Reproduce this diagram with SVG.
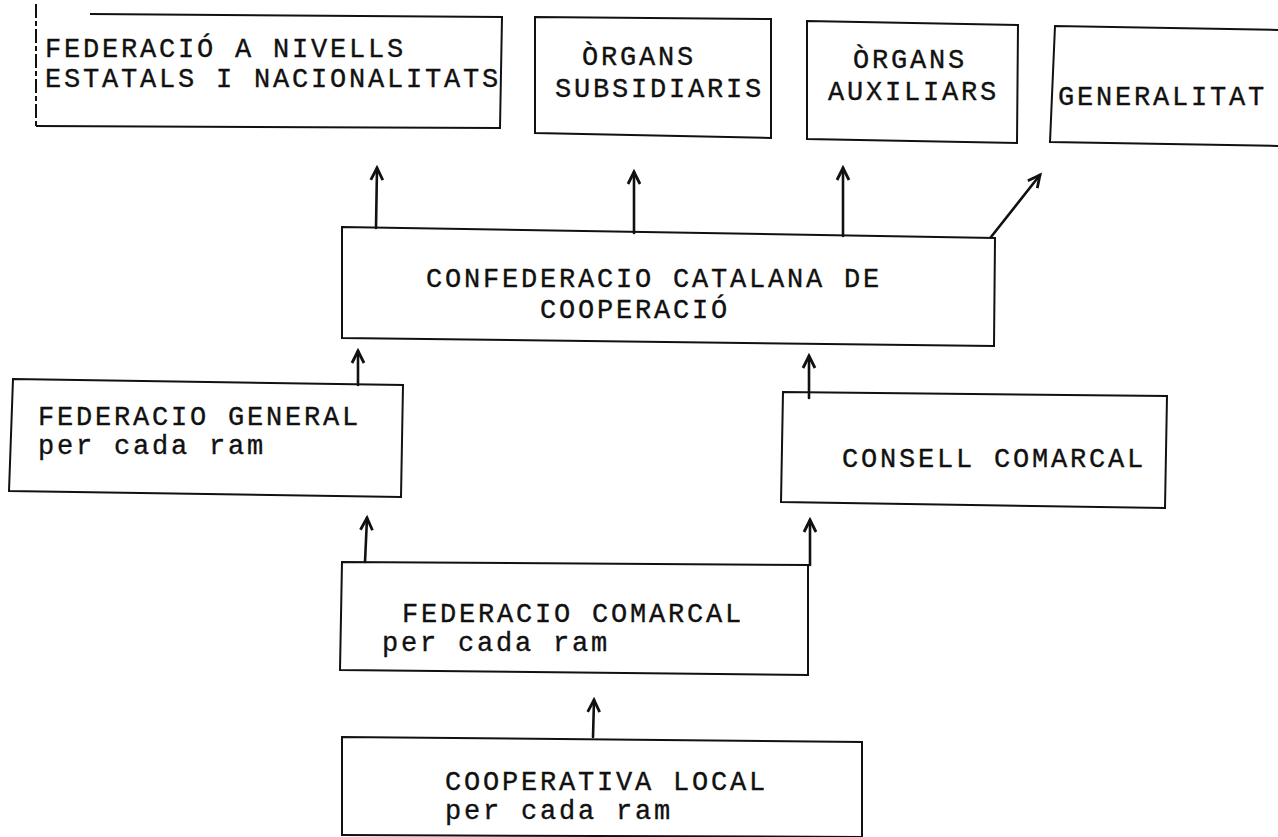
<svg xmlns="http://www.w3.org/2000/svg" width="1278" height="837" viewBox="0 0 1278 837">
<style>
.box{fill:none;stroke:#111;stroke-width:2;stroke-linejoin:miter}
.t{font-family:"Liberation Mono","Courier New",monospace;font-size:27px;letter-spacing:2.8px;fill:#111;stroke:#111;stroke-width:0.35}
.c{fill:none;stroke:#111;stroke-width:2.6;stroke-linecap:round}
</style>
<defs>
<marker id="ah" markerUnits="userSpaceOnUse" markerWidth="20" markerHeight="20" refX="16" refY="10" orient="auto" viewBox="0 0 20 20">
<path d="M4 4 L16 10 L4 16" fill="none" stroke="#111" stroke-width="2.8" stroke-linejoin="miter"/>
</marker>
</defs>
<rect width="1278" height="837" fill="#fff"/>

<g id="n-federacio-nivells">
<path class="box" d="M90 14 L502 17 L500 128 L36 126"/>
<path class="box" d="M36 4 L36 126" stroke-width="1.6" stroke-dasharray="14 3 5 3"/>
<text class="t" x="45" y="57">FEDERACIÓ A NIVELLS</text>
<text class="t" x="45" y="87">ESTATALS I NACIONALITATS</text>
</g>

<g id="n-organs-subsidiaris">
<path class="box" d="M535 17 L771 19 L771 138 L535 133 Z"/>
<text class="t" x="582" y="65">ÒRGANS</text>
<text class="t" x="555" y="97">SUBSIDIARIS</text>
</g>

<g id="n-organs-auxiliars">
<path class="box" d="M807 21 L1018 25 L1017 143 L807 139 Z"/>
<text class="t" x="853" y="68">ÒRGANS</text>
<text class="t" x="828" y="100">AUXILIARS</text>
</g>

<g id="n-generalitat">
<path class="box" d="M1280 30 L1055 26 L1050 142 L1280 146"/>
<text class="t" x="1058" y="105">GENERALITAT</text>
</g>

<g id="n-confederacio">
<path class="box" d="M342 227 L995 238 L994 346 L342 338 Z"/>
<text class="t" x="426" y="287">CONFEDERACIO CATALANA DE</text>
<text class="t" x="540" y="318">COOPERACIÓ</text>
</g>

<g id="n-federacio-general">
<path class="box" d="M13 379 L403 385 L401 497 L9 491 Z"/>
<text class="t" x="38" y="425">FEDERACIO GENERAL</text>
<text class="t" x="38" y="454">per cada ram</text>
</g>

<g id="n-consell-comarcal">
<path class="box" d="M783 392 L1167 396 L1165 508 L781 502 Z"/>
<text class="t" x="842" y="467">CONSELL COMARCAL</text>
</g>

<g id="n-federacio-comarcal">
<path class="box" d="M342 562 L808 565 L808 675 L340 670 Z"/>
<text class="t" x="402" y="622">FEDERACIO COMARCAL</text>
<text class="t" x="382" y="651">per cada ram</text>
</g>

<g id="n-cooperativa-local">
<path class="box" d="M342 836 L342 737 L862 742 L862 840"/>
<path class="box" d="M342 835 L862 837"/>
<text class="t" x="445" y="790">COOPERATIVA LOCAL</text>
<text class="t" x="445" y="819">per cada ram</text>
</g>

<g id="connectors">
<line class="c" x1="376" y1="228" x2="377" y2="168" marker-end="url(#ah)"/>
<line class="c" x1="634" y1="233" x2="634" y2="172" marker-end="url(#ah)"/>
<line class="c" x1="843" y1="236" x2="843" y2="168" marker-end="url(#ah)"/>
<line class="c" x1="991" y1="237" x2="1040" y2="175" marker-end="url(#ah)"/>
<line class="c" x1="358" y1="385" x2="358" y2="351" marker-end="url(#ah)"/>
<line class="c" x1="809" y1="398" x2="809" y2="356" marker-end="url(#ah)"/>
<line class="c" x1="365" y1="562" x2="367" y2="518" marker-end="url(#ah)"/>
<line class="c" x1="810" y1="565" x2="810" y2="520" marker-end="url(#ah)"/>
<line class="c" x1="593" y1="737" x2="594" y2="700" marker-end="url(#ah)"/>
</g>
</svg>
